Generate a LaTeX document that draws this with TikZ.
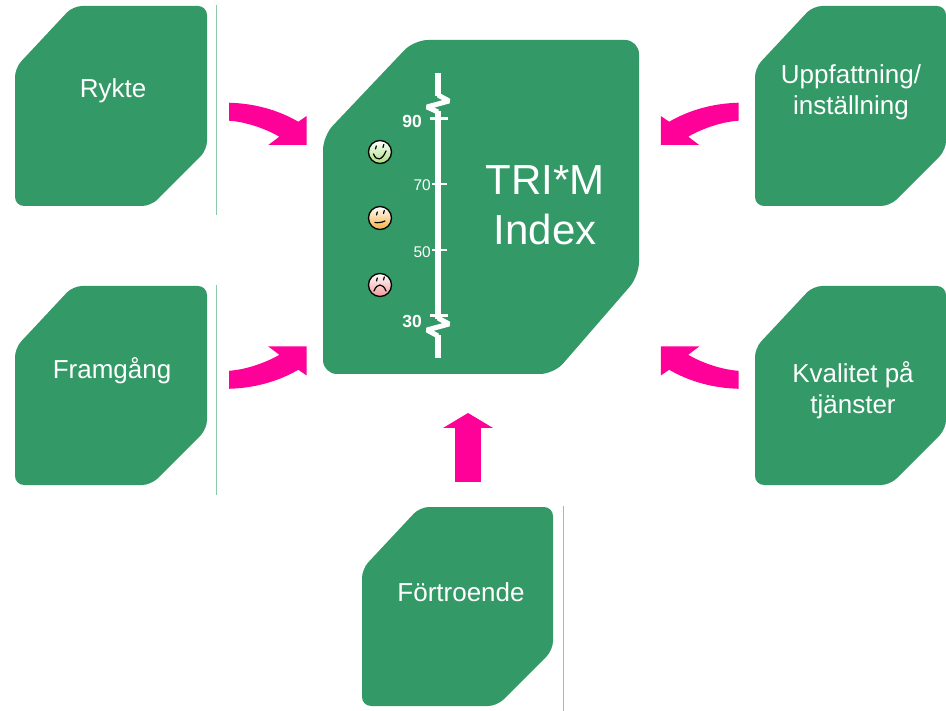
\documentclass[tikz,border=0pt]{standalone}
\usepackage{fontspec}
\setmainfont{Liberation Sans}
\usetikzlibrary{arrows.meta}

\definecolor{trigreen}{HTML}{339966}
\definecolor{trirule}{HTML}{8CC7A8}
\definecolor{tripink}{HTML}{FF0099}
\definecolor{happygreen}{HTML}{A8E07C}
\definecolor{okorange}{HTML}{F5B040}
\definecolor{sadpink}{HTML}{F29A9A}

\tikzset{
    box/.style={fill=trigreen,rounded corners=9pt},
    boxtext/.style={text=white,font=\fontsize{26}{31}\selectfont,align=center,inner sep=0pt},
    indextext/.style={text=white,font=\fontsize{42}{50}\selectfont,align=center,inner sep=0pt},
    sepline/.style={draw=trirule,line width=1pt},
    blockarrow/.style={fill=tripink},
    uparrow/.style={draw=tripink,line width=26pt,-{Triangle[length=15pt,width=50pt,line width=0pt]}},
    scaleline/.style={draw=white,line width=6pt},
    breakline/.style={draw=white,line width=5pt,line join=bevel},
    majortick/.style={draw=white,line width=3pt},
    minortick/.style={draw=white,line width=2pt},
    majorlabel/.style={text=white,font=\bfseries\fontsize{17.5}{20}\selectfont,inner sep=0pt,anchor=east},
    minorlabel/.style={text=white,font=\fontsize{15.5}{18}\selectfont,inner sep=0pt,anchor=east},
    face/.style={draw=black,line width=1.3pt,top color=white},
    feature/.style={draw=black,line width=1.2pt,line cap=round}
}

\begin{document}
\begin{tikzpicture}[x=1pt,y=-1pt]
    \useasboundingbox (0,0) rectangle (946,711);

    % boxes
    \fill[box] (15,68) -- (73,6) -- (207,6) -- (207,150) -- (151,206) -- (15,206) -- cycle;
    \fill[box] (15,348) -- (73,286) -- (207,286) -- (207,429) -- (151,485) -- (15,485) -- cycle;
    \fill[box] (755,68) -- (813,6) -- (946,6) -- (946,150) -- (890,206) -- (755,206) -- cycle;
    \fill[box] (755,348) -- (813,286) -- (946,286) -- (946,429) -- (890,485) -- (755,485) -- cycle;
    \fill[box] (362,569) -- (420,507) -- (553,507) -- (553,650) -- (497,706) -- (362,706) -- cycle;
    \fill[box,rounded corners=14pt] (323,136) -- (414,40) -- (639,40) -- (639,276) -- (554,374) -- (323,374) -- cycle;

    \draw[sepline] (216,5) -- (216,215);
    \draw[sepline] (216,285) -- (216,495);
    \draw[sepline] (563,506) -- (563,711);

    % curved arrows
    \fill[blockarrow] (229,102.7) .. controls (255,103.5) and (278,110) .. (298.3,121.7)
        -- (306.7,116) -- (306.7,145) -- (268.3,145) -- (279.3,136.7)
        .. controls (268,130) and (248,122) .. (229,120.7) -- cycle;
    \fill[blockarrow] (229,388.8) .. controls (255,388) and (278,381.5) .. (298.3,369.8)
        -- (306.7,375.5) -- (306.7,346.5) -- (268.3,346.5) -- (279.3,354.8)
        .. controls (268,361.5) and (248,369.5) .. (229,370.8) -- cycle;
    \fill[blockarrow] (738.5,102.7) .. controls (712.5,103.5) and (689.5,110) .. (669.2,121.7)
        -- (660.8,116) -- (660.8,145) -- (699.2,145) -- (688.2,136.7)
        .. controls (699.5,130) and (719.5,122) .. (738.5,120.7) -- cycle;
    \fill[blockarrow] (738.5,388.8) .. controls (712.5,388) and (689.5,381.5) .. (669.2,369.8)
        -- (660.8,375.5) -- (660.8,346.5) -- (699.2,346.5) -- (688.2,354.8)
        .. controls (699.5,361.5) and (719.5,369.5) .. (738.5,370.8) -- cycle;

    % straight arrow
    \coordinate (fortroende-out) at (468,482);
    \coordinate (index-in) at (468,413);
    \draw[uparrow] (fortroende-out) -- (index-in);

    % scale
    \draw[scaleline] (438,73) -- (438,96);
    \draw[breakline] (438,95) -- (449,101) -- (427,107) -- (438,112);
    \draw[scaleline] (438,111) -- (438,319);
    \draw[breakline] (438,318) -- (449,324) -- (427,330) -- (438,336);
    \draw[scaleline] (438,335) -- (438,358);

    \draw[majortick] (430,119) -- (448,119);
    \draw[majortick] (430,316) -- (448,316);
    \foreach \y in {184,250}
        \draw[minortick] (432,\y) -- (447,\y);

    \node[majorlabel] (l90) at (422,121) {90};
    \node[minorlabel] (l70) at (431,185.5) {70};
    \node[minorlabel] (l50) at (431,252.5) {50};
    \node[majorlabel] (l30) at (422,321) {30};

    % faces
    \shadedraw[face,bottom color=happygreen] (380,152) circle (11.5);
    \draw[feature] (375.5,149) -- (376.3,146);
    \draw[feature] (383,147.5) -- (383.8,144.5);
    \draw[feature] (373.5,154) .. controls (376,161) and (382,161) .. (386,151);

    \shadedraw[face,bottom color=okorange] (380,218) circle (11.5);
    \draw[feature] (376.5,215) -- (377.3,212);
    \draw[feature] (383.5,213.5) -- (384.3,210.5);
    \draw[feature] (375,222.5) .. controls (378,223) and (382,222.5) .. (385,221);

    \shadedraw[face,bottom color=sadpink] (380,285) circle (11.5);
    \draw[feature] (376.5,281) -- (377.3,278);
    \draw[feature] (383.5,280) -- (384.3,277);
    \draw[feature] (374,291) .. controls (377,283) and (383,283) .. (386,291);

    % texts
    \node[boxtext,anchor=base] (rykte) at (113,98) {Rykte};
    \node[boxtext,anchor=base] (framgang) at (112,379) {Framgång};
    \node[boxtext,anchor=base] (fortroende) at (461,601) {Förtroende};
    \node[boxtext] (uppfattning) at (851,92) {Uppfattning/\\inställning};
    \node[boxtext] (kvalitet) at (853,390) {Kvalitet på\\tjänster};
    \node[indextext] (index) at (545,205) {TRI*M\\Index};
\end{tikzpicture}
\end{document}
